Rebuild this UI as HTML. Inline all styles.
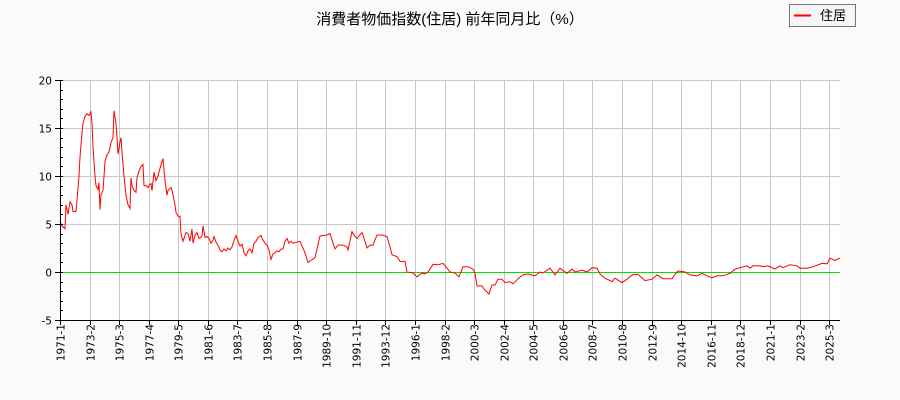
<!DOCTYPE html>
<html><head><meta charset="utf-8"><style>
body{margin:0;background:#fafafa;}
svg{display:block;font-family:"DejaVu Sans","Noto Sans CJK JP",sans-serif;}
</style></head><body>
<svg id="s" width="900" height="400" xmlns="http://www.w3.org/2000/svg">
<rect width="900" height="400" fill="#fafafa"/>
<rect x="60" y="80" width="780" height="240" fill="#fff"/>
<g id="grid" stroke="#c8c8c8" stroke-width="1"></g>
<line x1="60" y1="272.5" x2="840" y2="272.5" stroke="#00e000" stroke-width="1"/>
<polyline id="line" fill="none" stroke="#f00" stroke-width="1"/>
<g id="ax" stroke="#000" stroke-width="1"></g>
<g id="lbl" font-size="10.5" fill="#000"></g>
<text x="450" y="24" font-size="15" text-anchor="middle" fill="#000" style="font-family:'Liberation Sans','Noto Sans CJK JP',sans-serif">消費者物価指数(住居) 前年同月比（%）</text>
<rect x="789.5" y="4.5" width="66" height="22" fill="#f5f5f5" stroke="#777"/>
<line x1="794" y1="15.5" x2="811" y2="15.5" stroke="#f00" stroke-width="2"/>
<text x="820" y="20" font-size="13" fill="#000">住居</text>
</svg>
<script>
var ns="http://www.w3.org/2000/svg";
function el(p,t,a,txt){var e=document.createElementNS(ns,t);for(var k in a)e.setAttribute(k,a[k]);if(txt)e.textContent=txt;document.getElementById(p).appendChild(e);}
function Y(v){return 272-v*9.6;}
var labs=["1971-1","1973-2","1975-3","1977-4","1979-5","1981-6","1983-7","1985-8","1987-9","1989-10","1991-11","1993-12","1996-1","1998-2","2000-3","2002-4","2004-5","2006-6","2008-7","2010-8","2012-9","2014-10","2016-11","2018-12","2021-1","2023-2","2025-3"];
for(var i=0;i<labs.length;i++){var x=Math.round(60+i*29.58)+0.5;
 if(i>0)el("grid","line",{x1:x,y1:80,x2:x,y2:320});
 el("ax","line",{x1:x,y1:320,x2:x,y2:325});
 el("lbl","text",{x:0,y:0,transform:"translate("+(x+4)+",324) rotate(-90)","text-anchor":"end"},labs[i]);}
for(var v=-5;v<=20;v++){var y=Math.round(Y(v))+0.5;
 if(v%5==0){ if(v>-5&&v!=0)el("grid","line",{x1:60,y1:y,x2:840,y2:y});
  el("ax","line",{x1:55,y1:y,x2:63,y2:y});
  el("lbl","text",{x:52,y:y+4,"text-anchor":"end"},String(v));}
 else el("ax","line",{x1:60,y1:y,x2:63,y2:y});}
el("ax","line",{x1:60.5,y1:80,x2:60.5,y2:320});
el("ax","line",{x1:60,y1:320.5,x2:840,y2:320.5});
var d=[60,5.3,62,4.8,65,4.5,66,7,68,6,70,7.3,72,7,73,6.3,76,6.3,77,7.5,79,10,80,12,82,14.5,83,15.5,85,16.2,87,16.5,89,16.3,91,16.7,92,15.5,93,13,95,10,96,9,98,8.6,99,9.3,100,6.5,101,8,103,8.5,104,10,105,11.5,107,12.2,109,12.5,111,13.5,113,14,114,16.8,116,15.5,117,14,118,12.3,120,13.5,121,14,122,12.5,124,10,126,8,128,7,130,6.6,131,9.8,132,9,134,8.5,136,8.3,137,9.8,139,10.5,141,11,143,11.2,144,9,146,9,148,8.8,149,9,151,9.2,152,8.5,154,10.4,156,9.5,158,10,160,10.8,163,11.8,165,9.5,167,8,168,8.5,171,8.8,172,8.5,175,7,176,6.2,178,5.8,180,5.8,181,4,183,3.2,185,3.8,186,4.1,188,4,190,3.2,192,4.5,193,3.0,195,3.8,197,4.1,199,3.5,201,3.6,202,3.8,203,4.8,205,3.6,207,3.7,209,3.5,211,3,213,3.3,214,3.7,216,3.1,218,2.8,220,2.3,222,2.1,224,2.4,226,2.2,228,2.5,230,2.3,232,2.6,234,3.3,236,3.8,238,3.2,240,2.7,242,2.9,244,2.0,246,1.7,248,2.2,250,2.4,252,2.0,254,3.0,256,3.2,258,3.6,261,3.8,263,3.3,265,3.0,267,2.8,269,2.3,271,1.3,273,1.9,275,2.0,277,2.2,279,2.1,281,2.4,283,2.4,285,3.2,287,3.5,289,3.0,291,3.2,293,3.0,300,3.2,305,2.0,308,1.0,315,1.5,320,3.75,327,3.85,330,4.0,333,3.0,335,2.4,338,2.8,343,2.8,347,2.6,348,2.3,352,4.2,355,3.7,357,3.5,362,4.1,363,3.85,367,2.5,370,2.8,373,2.8,377,3.85,382,3.85,387,3.7,390,2.6,392,1.8,397,1.6,400,1.1,405,1.1,407,0,413,-0.1,417,-0.5,422,-0.1,425,-0.2,428,0,433,0.8,438,0.75,443,0.9,447,0.4,450,0,455,-0.1,459,-0.5,463,0.55,468,0.55,473,0.3,475,-0.1,477,-1.45,482,-1.45,485,-1.9,489,-2.3,492,-1.35,495,-1.35,498,-0.75,502,-0.75,505,-1.1,510,-1.0,513,-1.25,518,-0.7,523,-0.3,528,-0.2,535,-0.4,540,0,543,-0.1,550,0.4,555,-0.3,560,0.4,567,-0.15,572,0.3,575,0,582,0.2,587,0,592,0.45,597,0.4,600,-0.2,605,-0.65,612,-1.0,615,-0.65,622,-1.1,627,-0.75,633,-0.25,638,-0.25,645,-0.9,652,-0.75,657,-0.3,663,-0.7,672,-0.7,675,-0.25,678,0.1,685,0,690,-0.3,697,-0.4,702,-0.15,707,-0.4,712,-0.6,717,-0.4,723,-0.4,730,-0.15,735,0.3,742,0.5,747,0.65,750,0.4,753,0.65,760,0.65,763,0.55,768,0.65,775,0.3,780,0.65,783,0.45,790,0.75,797,0.65,800,0.4,807,0.4,813,0.55,822,0.9,827,0.85,830,1.45,835,1.2,840,1.45];
var pts=[];for(var j=0;j<d.length;j+=2)pts.push(d[j]+","+Y(d[j+1]).toFixed(1));
document.getElementById("line").setAttribute("points",pts.join(" "));
</script>
</body></html>
